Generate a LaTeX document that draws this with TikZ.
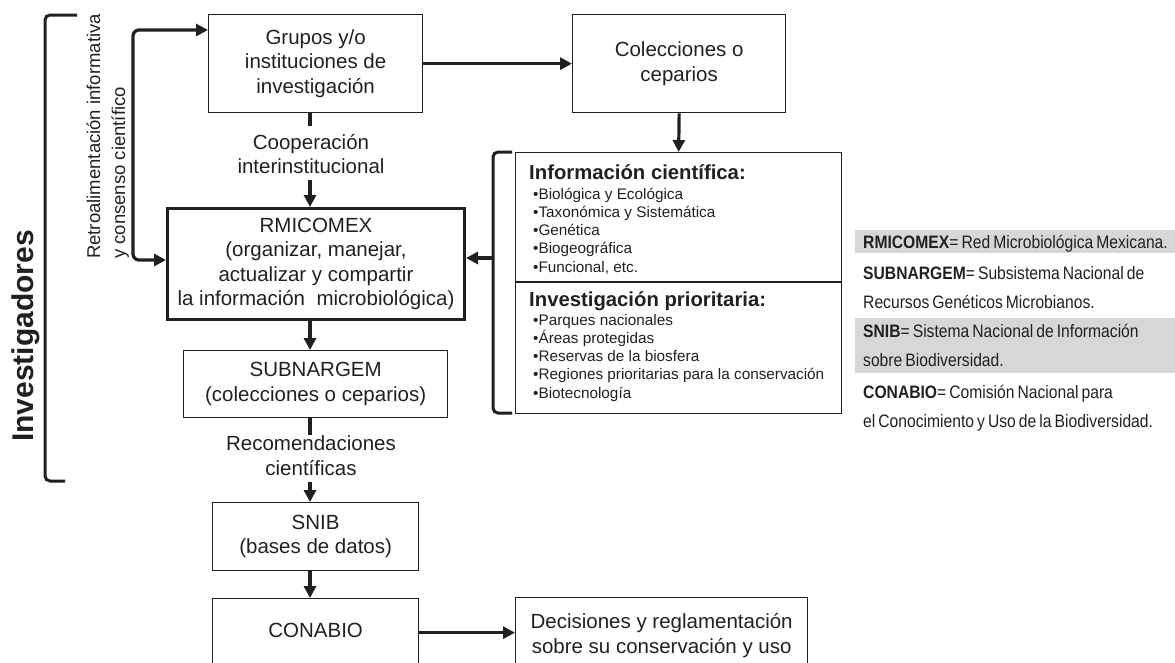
\documentclass[tikz,border=0pt]{standalone}
\usepackage{fontspec}
\setmainfont{Liberation Sans}
\newfontfamily\condfont[FakeStretch=0.87,WordSpace=0.7]{Liberation Sans}
\usetikzlibrary{arrows.meta}
\definecolor{ink}{RGB}{35,31,32}
\definecolor{band}{RGB}{215,215,215}
\newcommand\mainsz{\fontsize{20.5}{24.5}\selectfont}
\newcommand\itemsz{\fontsize{15.3}{18}\selectfont}
\newcommand\headsz{\bfseries\fontsize{20.3}{24}\selectfont}
\newcommand\legsz{\condfont\fontsize{18}{22}\selectfont}
\begin{document}
\begin{tikzpicture}[x=1pt,y=-1pt,
  box/.style={draw=ink, line width=1.3pt, align=center, inner sep=0pt, anchor=north west, font=\mainsz, text=ink},
  lbl/.style={align=center, inner sep=0pt, font=\mainsz, text=ink},
  arr/.style={draw=ink, line width=3.2pt, -{Triangle[length=12pt,width=12pt]}},
  darr/.style={draw=ink, line width=3.2pt, rounded corners=6pt, {Triangle[length=12pt,width=12pt]}-{Triangle[length=12pt,width=12pt]}},
  conn/.style={draw=ink, line width=3.2pt},
  brk/.style={draw=ink, line width=3pt, rounded corners=5pt},
  itm/.style={anchor=base west, inner sep=0pt, font=\itemsz, text=ink},
  hd/.style={anchor=base west, inner sep=0pt, font=\headsz, text=ink},
  leg/.style={anchor=base west, inner sep=0pt, font=\legsz, text=ink}]
\useasboundingbox (0,0) rectangle (1175,662);
\clip (0,0) rectangle (1175,662);

% legend bands
\fill[band] (855,230) rectangle (1175,253);
\fill[band] (855,318) rectangle (1175,373);

% boxes
\node[box, minimum width=214, minimum height=98] (grupos) at (208,14) {Grupos y/o\\instituciones de\\investigación};
\node[box, minimum width=213, minimum height=98] (colec) at (572,14) {Colecciones o\\ceparios};
\node[box, line width=3pt, minimum width=297, minimum height=111] (rmi) at (166,207) {RMICOMEX\\(organizar, manejar,\\actualizar y compartir\\la información~ microbiológica)};
\node[box, minimum width=264, minimum height=67] (subn) at (183,350) {SUBNARGEM\\(colecciones o ceparios)};
\node[box, minimum width=206, minimum height=68] (snib) at (212,502) {SNIB\\(bases de datos)};
\node[box, minimum width=206, minimum height=68, text depth=4pt] (conabio) at (212,598) {CONABIO};
\node[box, minimum width=292, minimum height=76] (dec) at (515,597) {Decisiones y reglamentación\\sobre su conservación y uso};
\node[draw=ink, line width=1.3pt, minimum width=326, minimum height=261, anchor=north west, inner sep=0pt] (info) at (515,152) {};

% helper coordinates
\coordinate (colx) at (310,0);
\coordinate (divy) at (0,282);
\coordinate (fbt) at (133,30);
\coordinate (fbb) at (133,260);
\coordinate (bt) at (512,152);
\coordinate (bm) at (493,258);
\coordinate (bb) at (512,413);
\coordinate (itr) at (77,15);
\coordinate (itl) at (45,15);
\coordinate (ibl) at (45,481);
\coordinate (ibr) at (65,481);

% info box content
\draw[ink, line width=1.3pt] (info.west |- divy) -- (info.east |- divy);
\node[hd] (h1) at (529,179.3) {Información científica:};
\foreach \t [count=\i] in {Biológica y Ecológica,Taxonómica y Sistemática,Genética,Biogeográfica,{Funcional, etc.}}
  \node[itm] (a\i) at (533,{199+18.3*(\i-1)}) {•\t};
\node[hd] (h2) at (529,306.7) {Investigación prioritaria:};
\foreach \t [count=\i] in {Parques nacionales,Áreas protegidas,Reservas de la biosfera,Regiones prioritarias para la conservación,Biotecnología}
  \node[itm] (b\i) at (533,{325+18.3*(\i-1)}) {•\t};

% labels on connectors
\node[lbl] (coop) at (311,154) {Cooperación\\interinstitucional};
\node[lbl] (recom) at (311,455.5) {Recomendaciones\\científicas};

% connectors
\draw[arr] (grupos.east) -- (colec.west);
\draw[arr] (colec.south) -- (info.north);
\draw[conn, shorten >=8pt] (grupos.south -| colx) -- (coop.north -| colx);
\draw[arr, shorten <=6pt] (coop.south -| colx) -- (rmi.north -| colx);
\draw[arr] (rmi.south -| colx) -- (subn.north -| colx);
\draw[conn, shorten >=1pt] (subn.south -| colx) -- (recom.north -| colx);
\draw[arr, shorten <=7pt] (recom.south -| colx) -- (snib.north -| colx);
\draw[arr] (snib.south -| colx) -- (conabio.north -| colx);
\draw[arr] (conabio.east) -- (dec.west |- conabio.east);
\draw[darr] (grupos.west |- fbt) -- (fbt) -- (fbb) -- (rmi.west |- fbb);

% bracket next to info box
\draw[brk] (bt) -| (bm) |- (bb);
\draw[arr] (bm) -- (rmi.east |- bm);

% investigadores bracket
\draw[brk] (itr) -- (itl) -- (ibl) -- (ibr);
\node[rotate=90, anchor=base, inner sep=0pt, font=\bfseries\fontsize{30}{36}\selectfont, text=ink] (inv) at (33,336) {Investigadores};
\node[rotate=90, anchor=base west, inner sep=0pt, font=\fontsize{18.5}{25}\selectfont, text=ink] (retro1) at (100,259) {Retroalimentación informativa};
\node[rotate=90, anchor=base west, inner sep=0pt, font=\fontsize{18.5}{25}\selectfont, text=ink] (retro2) at (125,259) {y consenso científico};

% legend
\node[leg] (l1) at (863,248) {\textbf{RMICOMEX}= Red Microbiológica Mexicana.};
\node[leg] (l2) at (863,279) {\textbf{SUBNARGEM}= Subsistema Nacional de};
\node[leg] (l3) at (863,308) {Recursos Genéticos Microbianos.};
\node[leg] (l4) at (863,337) {\textbf{SNIB}= Sistema Nacional de Información};
\node[leg] (l5) at (863,366) {sobre Biodiversidad.};
\node[leg] (l6) at (863,398) {\textbf{CONABIO}= Comisión Nacional para};
\node[leg] (l7) at (863,427) {el Conocimiento y Uso de la Biodiversidad.};
\end{tikzpicture}
\end{document}
